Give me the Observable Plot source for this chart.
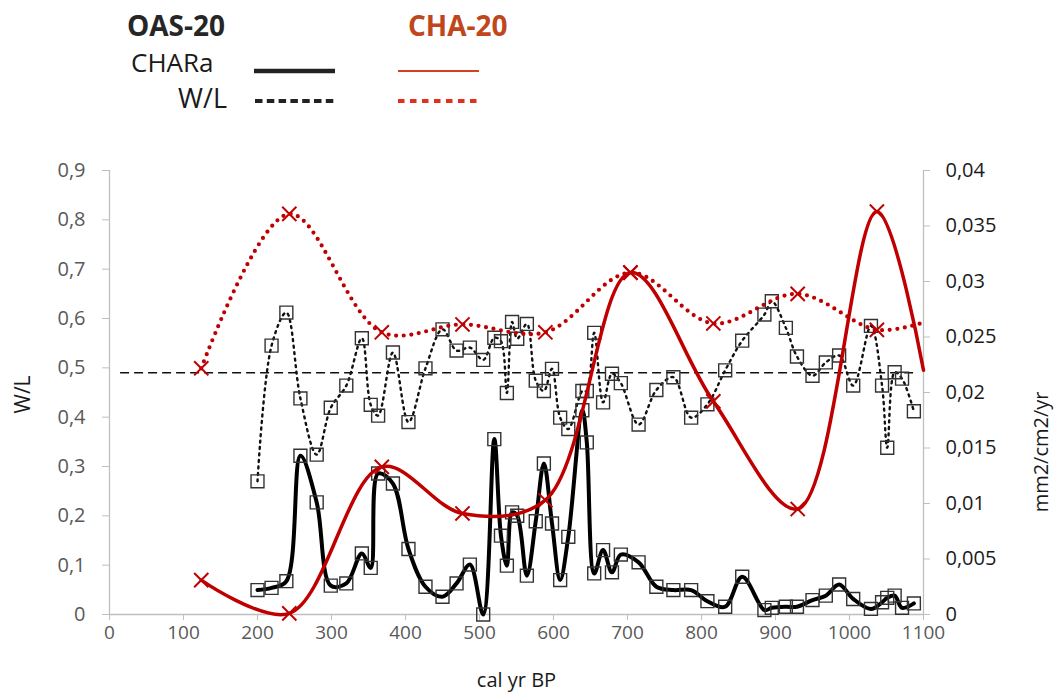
<!DOCTYPE html>
<html><head><meta charset="utf-8">
<script src="https://cdn.jsdelivr.net/npm/d3@7"></script>
<script src="https://cdn.jsdelivr.net/npm/@observablehq/plot@0.6"></script>
<style>
body{margin:0;background:#fff;font-family:"Open Sans",sans-serif;}
#wrap{width:1059px;height:695px;overflow:hidden;}
#legend,#chart{display:block;}
</style></head><body>
<div id="wrap"><div id="legend"></div><div id="chart"></div></div>
<script>
// ---------- data ----------
const oasAge = [200,219,239,258,280,299,320,341,353,363,383,404,427,450,469,487,505,520,529,537,544,551,564,576,587,598,609,620,639,645,655,667,679,691,715,739,762,786,808,832,855,885,895,914,929,950,968,986,1005,1029,1044,1051,1061,1071,1087];
const oasWL = [0.270,0.545,0.612,0.438,0.324,0.419,0.464,0.560,0.425,0.403,0.531,0.390,0.499,0.578,0.535,0.541,0.516,0.561,0.554,0.449,0.593,0.559,0.589,0.474,0.453,0.498,0.399,0.376,0.453,0.453,0.571,0.430,0.488,0.469,0.385,0.455,0.481,0.399,0.426,0.495,0.555,0.608,0.635,0.581,0.523,0.484,0.511,0.525,0.464,0.585,0.464,0.338,0.491,0.478,0.412];
const oasCHARa = [0.0022,0.0024,0.0030,0.0143,0.0101,0.0026,0.0028,0.0055,0.0042,0.0127,0.0118,0.0059,0.0025,0.0016,0.0028,0.0045,0.0000,0.0158,0.0071,0.0044,0.0092,0.0089,0.0035,0.0084,0.0136,0.0082,0.0031,0.0070,0.0184,0.0155,0.0037,0.0058,0.0038,0.0054,0.0047,0.0025,0.0022,0.0022,0.0012,0.0007,0.0034,0.0004,0.0006,0.0007,0.0007,0.0013,0.0017,0.0027,0.0014,0.0005,0.0011,0.0015,0.0017,0.0006,0.0010];

const chaAge = [124,243,368,477,589,704,816,930,1037,1100];
const chaWL = [0.499,0.812,0.572,0.588,0.572,0.693,0.590,0.650,0.577,0.592];
const chaCHARa = [0.0031,0.0001,0.0133,0.0091,0.0103,0.0308,0.0192,0.0095,0.0363,0.0220];

const refLine = [{x1: 15, x2: 1090, y: 0.49}];

const xTicks = [0,100,200,300,400,500,600,700,800,900,1000,1100];
const xTickLabels = ["0","100","200","300","400","500","600","700","800","900","1000","1100"];
const leftTicks = [0,0.1,0.2,0.3,0.4,0.5,0.6,0.7,0.8,0.9];
const leftTickLabels = ["0","0,1","0,2","0,3","0,4","0,5","0,6","0,7","0,8","0,9"];
const rightTicks = [0,0.005,0.01,0.015,0.02,0.025,0.03,0.035,0.04];
const rightTickLabels = ["0","0,005","0,01","0,015","0,02","0,025","0,03","0,035","0,04"];

const seriesNames = ["OAS-20","CHA-20"];
const rowNames = ["CHARa","W/L"];
const axisTitles = {x: "cal yr BP", yLeft: "W/L", yRight: "mm2/cm2/yr"};

// ---------- build ----------
const k = 0.9 / 0.04; // right axis -> left axis
const oas = oasAge.map((a,i)=>({age:a, wl:oasWL[i], ch:oasCHARa[i]}));
const cha = chaAge.map((a,i)=>({age:a, wl:chaWL[i], ch:chaCHARa[i]}));
const chaPts = cha.filter(d => d.age < 1100);

// legend (separate svg above the chart)
const NS = "http://www.w3.org/2000/svg";
const lg = document.createElementNS(NS,"svg");
lg.setAttribute("width",1059); lg.setAttribute("height",130);
lg.style.display="block";
function el(tag, attrs, txt){const e=document.createElementNS(NS,tag);for(const k in attrs)e.setAttribute(k,attrs[k]);if(txt!=null)e.textContent=txt;lg.appendChild(e);return e;}
const F = 'font-family:"Open Sans",sans-serif';
el("text",{x:127,y:36,style:F+';font-size:28px;font-weight:700;fill:#262626'},seriesNames[0]);
el("text",{x:408,y:36,style:F+';font-size:28px;font-weight:700;fill:#C0461B'},seriesNames[1]);
el("text",{x:131,y:72,style:F+';font-size:26px;fill:#1a1a1a'},rowNames[0]);
el("text",{x:227,y:108,"text-anchor":"end",style:F+';font-size:27px;fill:#1a1a1a'},rowNames[1]);
el("line",{x1:254,x2:335,y1:71,y2:71,stroke:"#222","stroke-width":4.5});
el("line",{x1:398,x2:479,y1:71,y2:71,stroke:"#D2421F","stroke-width":2.2});
el("line",{x1:255,x2:337,y1:101,y2:101,stroke:"#222","stroke-width":4,"stroke-dasharray":"7.5,4.3"});
el("line",{x1:398,x2:481,y1:101,y2:101,stroke:"#E0301E","stroke-width":4,"stroke-dasharray":"6.5,5.5"});
document.getElementById("legend").appendChild(lg);

const chart = Plot.plot({
  width: 1059, height: 565,
  marginLeft: 109, marginRight: 136, marginTop: 40, marginBottom: 81,
  x: {domain: [0, 1100]},
  y: {domain: [0, 0.9]},
  style: {fontFamily: '"Open Sans", sans-serif', background: "#fff", overflow: "visible"},
  marks: [
    Plot.ruleY([0], {stroke: "#bfbfbf", strokeWidth: 1.3}),
    Plot.ruleX([0, 1100], {stroke: "#bfbfbf", strokeWidth: 1.3}),
    Plot.axisX({ticks: xTicks, tickFormat: d => xTickLabels[xTicks.indexOf(d)], tickSize: 6, tickPadding: 5,
      stroke: "#bfbfbf", fill: "#595959", fontSize: 19, label: null}),
    Plot.axisY({ticks: leftTicks, tickFormat: d => leftTickLabels[Math.round(d * 10)], tickSize: 7, tickPadding: 17,
      stroke: "#bfbfbf", fill: "#595959", fontSize: 20, label: null}),
    Plot.axisY({anchor: "right", ticks: rightTicks.map(v => v * k),
      tickFormat: d => rightTickLabels[Math.round(d / k / 0.005)], tickSize: 6, tickPadding: 16,
      stroke: "#bfbfbf", fill: "#1a1a1a", fontSize: 20, label: null}),
    Plot.ruleY(refLine, {y: "y", x1: "x1", x2: "x2", stroke: "#111", strokeWidth: 1.3, strokeDasharray: "9,5"}),
    Plot.line(oas, {x: "age", y: "wl", curve: "catmull-rom", stroke: "#111", strokeWidth: 2.4, strokeDasharray: "2,4.5"}),
    Plot.dot(oas, {x: "age", y: "wl", symbol: "square", r: 7.3, stroke: "#333", strokeWidth: 1.4, fill: "none"}),
    Plot.line(oas, {x: "age", y: d => d.ch * k, curve: "catmull-rom", stroke: "#000", strokeWidth: 4}),
    Plot.dot(oas, {x: "age", y: d => d.ch * k, symbol: "square", r: 7.3, stroke: "#333", strokeWidth: 1.4, fill: "none"}),
    Plot.line(cha, {x: "age", y: "wl", curve: "catmull-rom", stroke: "#C00000", strokeWidth: 4.2, strokeDasharray: "0,7.6", strokeLinecap: "round"}),
    Plot.line(cha, {x: "age", y: d => d.ch * k, curve: "catmull-rom", stroke: "#C00000", strokeWidth: 3.5}),
    Plot.dot(chaPts, {x: "age", y: "wl", symbol: "times", r: 6.5, stroke: "#C00000", strokeWidth: 2}),
    Plot.dot(chaPts, {x: "age", y: d => d.ch * k, symbol: "times", r: 6.5, stroke: "#C00000", strokeWidth: 2}),
    Plot.text([axisTitles.yLeft], {frameAnchor: "left", dx: -86, dy: 21, rotate: -90, fontSize: 21, fill: "#1a1a1a"}),
    Plot.text([axisTitles.yRight], {frameAnchor: "right", dx: 118, dy: -1, rotate: -90, fontSize: 20, fill: "#1a1a1a"}),
    Plot.text([axisTitles.x], {frameAnchor: "bottom", dy: 72, fontSize: 20, fill: "#1a1a1a"})
  ]
});
document.getElementById("chart").appendChild(chart);
</script>
</body></html>
